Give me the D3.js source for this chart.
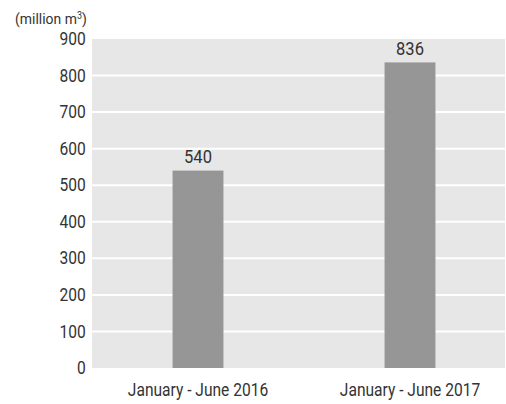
<!DOCTYPE html>
<html>
<head>
<meta charset="utf-8">
<script src="https://cdn.jsdelivr.net/npm/d3@7"></script>
<style>
  html, body { margin: 0; padding: 0; background: #fff; }
  svg text { font-family: "Liberation Sans Narrow", "Arial Narrow", "Roboto", sans-serif; font-weight: 400; fill: #333; }
</style>
</head>
<body>
<svg id="chart" width="506" height="404"></svg>
<script>
// Water volume, first half of each year (million m³)
const categories = ["January - June 2016", "January - June 2017"];
const values = [540, 836];
const yTicks = [0, 100, 200, 300, 400, 500, 600, 700, 800, 900];
const unitLabel = "(million m";

const svg = d3.select("#chart");
const plot = { left: 92, right: 505, top: 39, bottom: 368 };
const narrow = "scale(0.89,1)";

const x = d3.scaleBand()
  .domain(categories)
  .range([plot.left, plot.left + 424])
  .paddingInner(0.76)
  .paddingOuter(0.38);

const y = d3.scaleLinear()
  .domain([0, 900])
  .range([plot.bottom, plot.top]);

// panel background
svg.append("rect")
  .attr("x", plot.left).attr("y", plot.top)
  .attr("width", plot.right - plot.left)
  .attr("height", plot.bottom - plot.top)
  .attr("fill", "#e7e7e7");

// white gridlines
svg.append("g")
  .selectAll("line")
  .data(yTicks.filter(d => d > 0 && d < 900))
  .join("line")
  .attr("x1", plot.left).attr("x2", plot.right)
  .attr("y1", d => y(d)).attr("y2", d => y(d))
  .attr("stroke", "#fff").attr("stroke-width", 2);

// y axis labels
const yAxis = d3.axisLeft(y).tickValues(yTicks).tickSize(0).tickPadding(7);
const gy = svg.append("g").attr("transform", `translate(${plot.left},0)`).call(yAxis);
gy.select(".domain").remove();
gy.selectAll("text").attr("font-size", 17.5).attr("fill", "#333")
  .attr("transform", narrow);
gy.attr("font-family", null);

// x axis labels
const xAxis = d3.axisBottom(x).tickSize(0).tickPadding(16);
const gx = svg.append("g").attr("transform", `translate(0,${plot.bottom})`).call(xAxis);
gx.select(".domain").remove();
gx.selectAll("text").attr("font-size", 17.5).attr("fill", "#333")
  .attr("transform", narrow);
gx.attr("font-family", null);

// bars
svg.append("g")
  .selectAll("rect")
  .data(values)
  .join("rect")
  .attr("x", (d, i) => x(categories[i]))
  .attr("width", x.bandwidth())
  .attr("y", d => y(d))
  .attr("height", d => y(0) - y(d))
  .attr("fill", "#969696");

// value labels
svg.append("g")
  .selectAll("text")
  .data(values)
  .join("text")
  .attr("transform", (d, i) =>
    `translate(${x(categories[i]) + x.bandwidth() / 2},${y(d) - 7.5}) scale(0.92,1)`)
  .attr("text-anchor", "middle")
  .attr("font-size", 18)
  .text(d => d);

// unit label
const unit = svg.append("text")
  .attr("transform", "translate(15,24) scale(0.9,1)")
  .attr("font-size", 15.5);
unit.append("tspan").text(unitLabel);
unit.append("tspan").attr("font-size", 10).attr("dy", -5).text("3");
unit.append("tspan").attr("dy", 5).text(")");
</script>
</body>
</html>
